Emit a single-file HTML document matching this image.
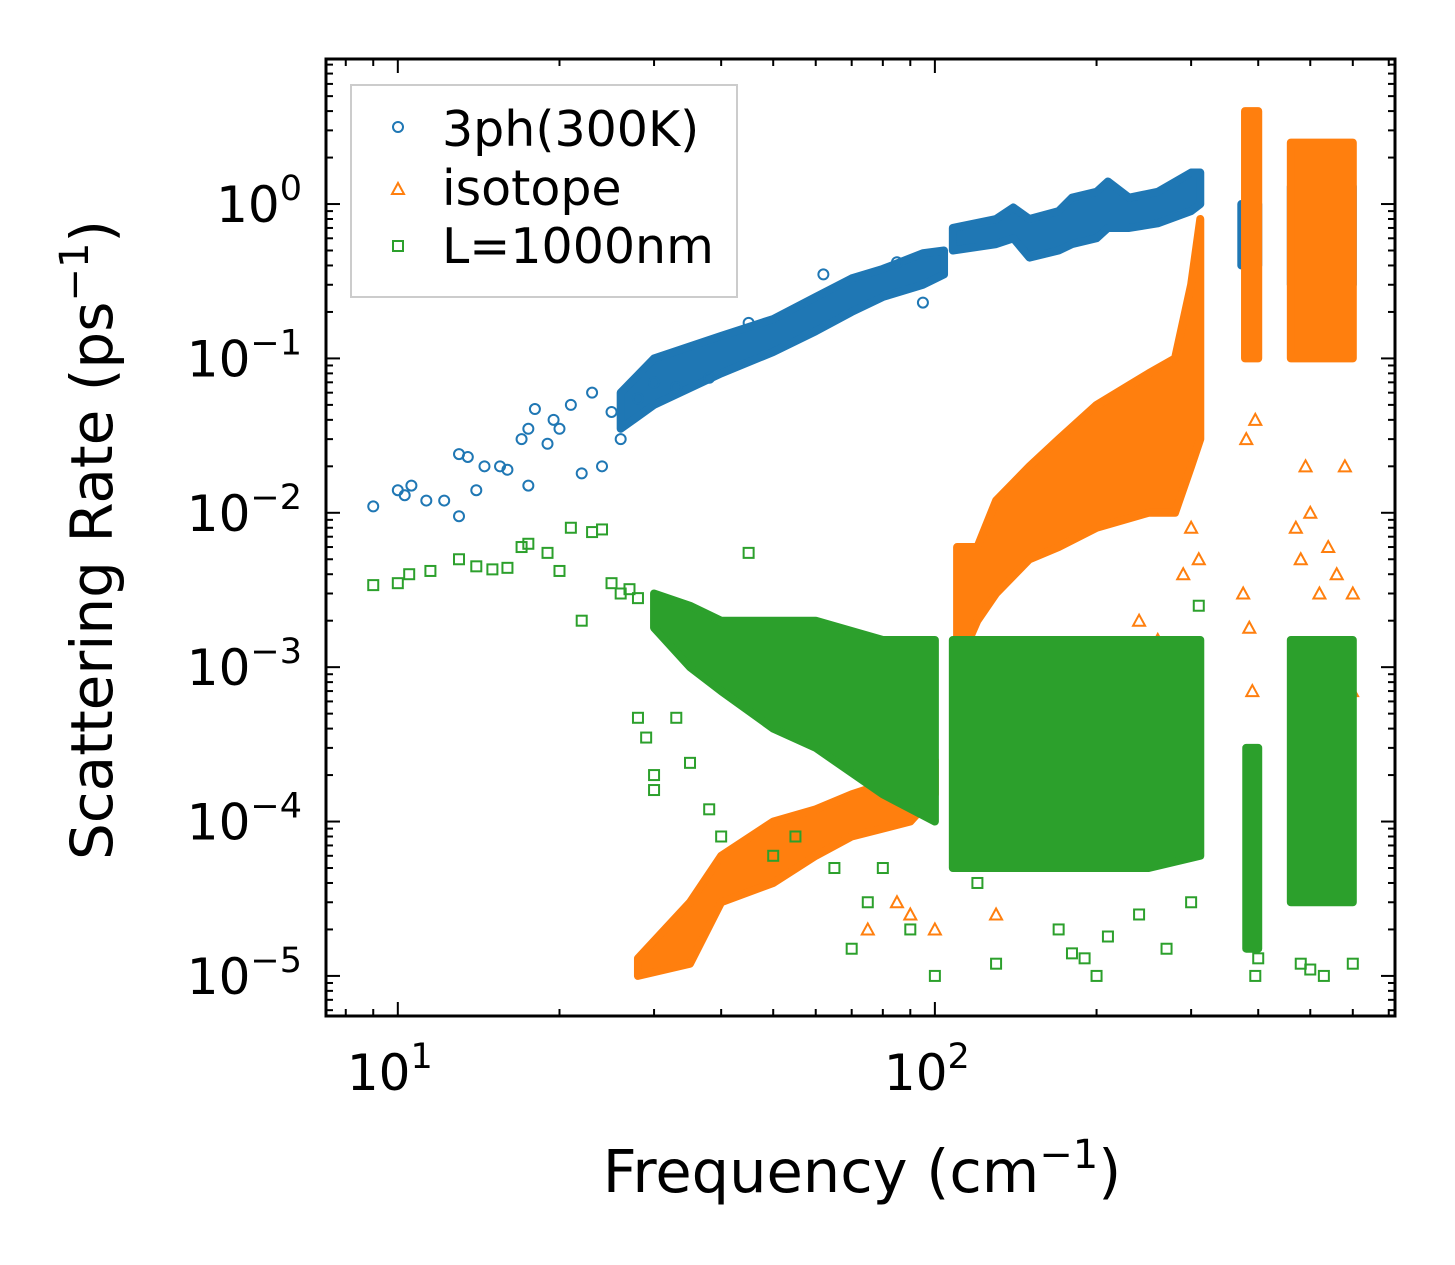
<!DOCTYPE html>
<html><head><meta charset="utf-8">
<style>
html,body{margin:0;padding:0;background:#fff;}
svg{display:block;font-family:"DejaVu Sans","Liberation Sans",sans-serif;}
</style></head>
<body>
<svg id="chart" width="1455" height="1265" viewBox="0 0 1455 1265">
<rect x="0" y="0" width="1455" height="1265" fill="#fff"/>
<g id="plot"></g>
<g id="axes"></g>
<text x="862" y="1192" font-size="59" text-anchor="middle">Frequency (cm<tspan font-size="40" dy="-24">−1</tspan><tspan dy="24">)</tspan></text>
<text transform="translate(112,540) rotate(-90)" font-size="58" text-anchor="middle">Scattering Rate (ps<tspan font-size="40" dy="-24">−1</tspan><tspan dy="24">)</tspan></text>
<g>
<rect x="351" y="85" width="386" height="212" fill="#fff" fill-opacity="0.8" stroke="#ccc" stroke-width="2"/>
<circle cx="398" cy="127" r="5" fill="none" stroke="#1f77b4" stroke-width="2"/>
<text x="442" y="146" font-size="49">3ph(300K)</text>
<path d="M392,194 L398,183 L404,194 Z" fill="none" stroke="#ff7f0e" stroke-width="2"/>
<text x="442" y="205" font-size="49">isotope</text>
<rect x="393" y="241" width="10" height="10" fill="none" stroke="#2ca02c" stroke-width="2"/>
<text x="442" y="263" font-size="49">L=1000nm</text>
</g>
</svg>
<script>
// ---- data ----
const xMin = 7.35, xMax = 719, yMin = 5.5e-6, yMax = 8.7;
const xTickValues = [10, 100];
const xTickLabels = ["10", "10"];
const xTickExps = ["1", "2"];
const yTickValues = [1, 0.1, 0.01, 0.001, 0.0001, 0.00001];
const yTickExps = ["0", "−1", "−2", "−3", "−4", "−5"];

// dense band envelopes: frequency, low rate, high rate (segments)
const blueBands = [
  {f:[26,30,40,50,60,70,80,95,104], lo:[0.035,0.05,0.08,0.11,0.15,0.2,0.25,0.3,0.35], hi:[0.06,0.1,0.14,0.18,0.25,0.33,0.38,0.48,0.5]},
  {f:[108,130,140,150,170,180,200,210,230,260,300,312], lo:[0.5,0.55,0.6,0.45,0.5,0.55,0.6,0.7,0.7,0.75,0.9,1.0], hi:[0.7,0.8,0.95,0.8,0.9,1.1,1.2,1.4,1.1,1.2,1.6,1.6]},
  {f:[372,400], lo:[0.4,0.4], hi:[1.0,1.0]},
  {f:[460,600], lo:[0.3,0.3], hi:[1.3,1.3]}
];
const orangeBands = [
  {f:[28,35,40,50,60,70,90,100], lo:[1e-5,1.2e-5,3e-5,4e-5,6e-5,8e-5,1e-4,1.5e-4], hi:[1.3e-5,3e-5,6e-5,1e-4,1.2e-4,1.5e-4,2e-4,2.5e-4]},
  {f:[110,120,130,150,170,200,250,280,300,312], lo:[1e-3,2e-3,3e-3,5e-3,6e-3,8e-3,1e-2,1e-2,2e-2,3e-2], hi:[6e-3,6e-3,1.2e-2,2e-2,3e-2,5e-2,8e-2,0.1,0.3,0.8]},
  {f:[378,400], lo:[0.1,0.1], hi:[4,4]},
  {f:[460,600], lo:[0.1,0.1], hi:[2.5,2.5]}
];
const greenBands = [
  {f:[30,35,40,50,60,80,100], lo:[1.8e-3,1e-3,7e-4,4e-4,3e-4,1.5e-4,1e-4], hi:[3e-3,2.5e-3,2e-3,2e-3,2e-3,1.5e-3,1.5e-3]},
  {f:[108,150,200,250,312], lo:[5e-5,5e-5,5e-5,5e-5,6e-5], hi:[1.5e-3,1.5e-3,1.5e-3,1.5e-3,1.5e-3]},
  {f:[380,400], lo:[1.5e-5,1.5e-5], hi:[3e-4,3e-4]},
  {f:[460,600], lo:[3e-5,3e-5], hi:[1.5e-3,1.5e-3]}
];
// sparse points
const blueX = [9,10,10.3,10.6,11.3,12.2,13,13,13.5,14,14.5,15.5,16,17,17.5,17.5,18,19,19.5,20,21,22,23,24,25,26,28,30,33,38,45,62,85,95];
const blueY = [0.011,0.014,0.013,0.015,0.012,0.012,0.0095,0.024,0.023,0.014,0.02,0.02,0.019,0.03,0.015,0.035,0.047,0.028,0.04,0.035,0.05,0.018,0.06,0.02,0.045,0.03,0.055,0.07,0.065,0.075,0.17,0.35,0.42,0.23];
const orangeX = [75,85,90,100,130,140,160,180,200,215,240,260,290,300,310,375,380,385,390,395,470,480,490,500,520,540,560,580,600,598];
const orangeY = [2e-5,3e-5,2.5e-5,2e-5,2.5e-5,6e-4,8e-4,1e-3,5e-4,1.2e-3,2e-3,1.5e-3,4e-3,8e-3,5e-3,0.003,0.03,1.8e-3,7e-4,0.04,0.008,0.005,0.02,0.01,0.003,0.006,0.004,0.02,0.003,7e-4];
const greenX = [9,10,10.5,11.5,13,14,15,16,17,17.5,19,20,21,22,23,24,25,26,27,28,28,29,30,30,33,35,38,40,45,50,55,65,70,75,80,90,100,120,130,170,180,190,200,210,240,270,300,310,395,400,480,500,530,600];
const greenY = [3.4e-3,3.5e-3,4e-3,4.2e-3,5e-3,4.5e-3,4.3e-3,4.4e-3,6e-3,6.3e-3,5.5e-3,4.2e-3,8e-3,2e-3,7.5e-3,7.8e-3,3.5e-3,3e-3,3.2e-3,2.8e-3,4.7e-4,3.5e-4,2e-4,1.6e-4,4.7e-4,2.4e-4,1.2e-4,8e-5,5.5e-3,6e-5,8e-5,5e-5,1.5e-5,3e-5,5e-5,2e-5,1e-5,4e-5,1.2e-5,2e-5,1.4e-5,1.3e-5,1e-5,1.8e-5,2.5e-5,1.5e-5,3e-5,2.5e-3,1e-5,1.3e-5,1.2e-5,1.1e-5,1e-5,1.2e-5];

// ---- geometry ----
const L = 326, R = 1395, T = 59, B = 1016;
const lx = v => L + (Math.log10(v) - Math.log10(xMin)) / (Math.log10(xMax) - Math.log10(xMin)) * (R - L);
const ly = v => B - (Math.log10(v) - Math.log10(yMin)) / (Math.log10(yMax) - Math.log10(yMin)) * (B - T);
const NS = "http://www.w3.org/2000/svg";
const plot = document.getElementById('plot');
const axes = document.getElementById('axes');
function mk(tag, attrs, parent) {
  const e = document.createElementNS(NS, tag);
  for (const k in attrs) e.setAttribute(k, attrs[k]);
  parent.appendChild(e);
  return e;
}
function drawBands(bands, color, name) {
  bands.forEach((b, i) => {
    let pts = [];
    for (let j = 0; j < b.f.length; j++) pts.push(lx(b.f[j]) + ',' + ly(b.hi[j]));
    for (let j = b.f.length - 1; j >= 0; j--) pts.push(lx(b.f[j]) + ',' + ly(b.lo[j]));
    const p = mk('polygon', {points: pts.join(' '), fill: color, stroke: color, 'stroke-width': 8, 'stroke-linejoin': 'round'}, plot);
    
    
  });
}
function drawPoints(xs, ys, color, shape, name) {
  for (let i = 0; i < xs.length; i++) {
    const cx = lx(xs[i]), cy = ly(ys[i]);
    let e;
    if (shape === 'o') e = mk('circle', {cx, cy, r: 5, fill: 'none', stroke: color, 'stroke-width': 2}, plot);
    else if (shape === '^') e = mk('path', {d: `M${cx-6},${cy+5} L${cx},${cy-6} L${cx+6},${cy+5} Z`, fill: 'none', stroke: color, 'stroke-width': 2}, plot);
    else e = mk('rect', {x: cx-5, y: cy-5, width: 10, height: 10, fill: 'none', stroke: color, 'stroke-width': 2}, plot);
    
    
  }
}
drawBands(blueBands, '#1f77b4', '3ph');
drawPoints(blueX, blueY, '#1f77b4', 'o', '3ph');
drawBands(orangeBands, '#ff7f0e', 'isotope');
drawPoints(orangeX, orangeY, '#ff7f0e', '^', 'isotope');
drawBands(greenBands, '#2ca02c', 'boundary');
drawPoints(greenX, greenY, '#2ca02c', 's', 'boundary');

// frame
const fr = mk('rect', {x: L, y: T, width: R - L, height: B - T, fill: 'none', stroke: '#000', 'stroke-width': 3}, axes);


// x ticks
for (let d = 0; d <= 2; d++) {
  for (let m = 1; m <= 9; m++) {
    const v = m * Math.pow(10, d);
    if (v < xMin || v > xMax) continue;
    const len = m === 1 ? 14 : 7, X = lx(v);
    const t1 = mk('line', {x1: X, x2: X, y1: B, y2: B - len, stroke: '#000', 'stroke-width': 2}, axes);
    
    
    const t2 = mk('line', {x1: X, x2: X, y1: T, y2: T + len, stroke: '#000', 'stroke-width': 2}, axes);
    
    
  }
}
xTickValues.forEach((v, i) => {
  const t = mk('text', {x: lx(v) - 8, y: B + 74, 'font-size': 50, 'text-anchor': 'middle'}, axes);
  
  
  t.innerHTML = xTickLabels[i] + '<tspan font-size="35" dy="-22">' + xTickExps[i] + '</tspan>';
});
// y ticks
for (let d = -6; d <= 0; d++) {
  for (let m = 1; m <= 9; m++) {
    const v = m * Math.pow(10, d);
    if (v < yMin || v > yMax) continue;
    const len = m === 1 ? 14 : 7, Y = ly(v);
    const t1 = mk('line', {x1: L, x2: L + len, y1: Y, y2: Y, stroke: '#000', 'stroke-width': 2}, axes);
    
    
    const t2 = mk('line', {x1: R, x2: R - len, y1: Y, y2: Y, stroke: '#000', 'stroke-width': 2}, axes);
    
    
  }
}
yTickValues.forEach((v, i) => {
  const t = mk('text', {x: 302, y: ly(v) + 18, 'font-size': 50, 'text-anchor': 'end'}, axes);
  
  
  t.innerHTML = '10<tspan font-size="35" dy="-22">' + yTickExps[i] + '</tspan>';
});
</script>
</body></html>
